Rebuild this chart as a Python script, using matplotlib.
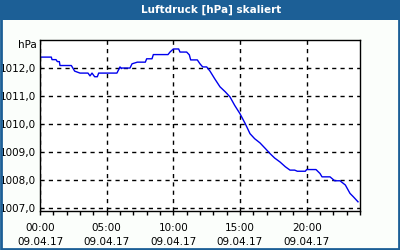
import matplotlib
matplotlib.use('Agg')
import matplotlib.pyplot as plt
from matplotlib.patches import Rectangle
from matplotlib.ticker import FixedLocator, MultipleLocator

# Luftdruck values (hours since 00:00, hPa)
hours = [0.0, 0.85, 0.9, 1.2, 1.3, 1.45, 1.5, 2.35, 2.6, 3.0, 3.6, 3.75,
         3.9, 4.1, 4.3, 4.4, 5.77, 6.0, 6.1, 6.15, 6.75, 6.9, 7.3, 7.9,
         8.0, 8.4, 8.5, 9.6, 9.75, 10.0, 10.4, 10.5, 11.0, 11.2, 11.3, 11.8,
         12.0, 12.2, 12.5, 12.75, 13.1, 13.5, 13.9, 14.25, 14.6, 15.0, 15.4,
         15.75, 16.1, 16.5, 16.9, 17.25, 17.6, 18.0, 18.4, 18.75, 19.1, 19.3,
         19.9, 20.0, 20.7, 21.0, 21.15, 21.75, 22.1, 22.5, 22.9, 23.25, 23.5,
         23.85]
pressure = [1012.39, 1012.39, 1012.30, 1012.30, 1012.23, 1012.23, 1012.09,
            1012.09, 1011.89, 1011.82, 1011.82, 1011.72, 1011.82, 1011.69,
            1011.69, 1011.82, 1011.82, 1012.04, 1011.98, 1012.0, 1012.0,
            1012.15, 1012.21, 1012.21, 1012.33, 1012.33, 1012.48, 1012.48,
            1012.57, 1012.68, 1012.68, 1012.57, 1012.57, 1012.47, 1012.29,
            1012.29, 1012.15, 1012.04, 1012.04, 1011.89, 1011.62, 1011.33,
            1011.15, 1010.97, 1010.67, 1010.37, 1010.01, 1009.66, 1009.48,
            1009.33, 1009.13, 1008.95, 1008.79, 1008.65, 1008.48, 1008.36,
            1008.36, 1008.32, 1008.32, 1008.38, 1008.38, 1008.24, 1008.12,
            1008.12, 1007.98, 1007.98, 1007.83, 1007.53, 1007.41, 1007.23]

xticks = [0, 5, 10, 15, 20]
xlabels = ['00:00\n09.04.17', '05:00\n09.04.17', '10:00\n09.04.17',
           '15:00\n09.04.17', '20:00\n09.04.17']
yticks = [1007, 1008, 1009, 1010, 1011, 1012]

blue = '#1c5f96'
fig = plt.figure(figsize=(4, 2.5), dpi=100, facecolor='#fbfefb')

# title bar and frame
fig.patches.append(Rectangle((0, 230/250), 1, 20/250, transform=fig.transFigure,
                             facecolor=blue, edgecolor='none', zorder=0))
fig.patches.append(Rectangle((0.0025, 0.003), 0.995, 0.995, transform=fig.transFigure,
                             facecolor='none', edgecolor=blue, lw=2, zorder=5))
fig.text(0.528, 1 - 10/250, 'Luftdruck [hPa] skaliert', color='white',
         fontsize=7.5, fontweight='bold', ha='center', va='center')

ax = fig.add_axes([40/400, (250-210.5)/250, 320/400, 170.5/250])
ax.set_facecolor('white')
ax.plot(hours, pressure, color='#0000ee', lw=1)

ax.set_xlim(0, 24)
ax.set_ylim(1006.92, 1013.0)
ax.xaxis.set_major_locator(FixedLocator(xticks))
ax.xaxis.set_minor_locator(MultipleLocator(1))
ax.set_xticklabels(xlabels, fontsize=7.5, linespacing=1.45)
ax.set_yticks(yticks)
ax.set_yticklabels(['%d,0' % v for v in yticks], fontsize=7.5)
ax.tick_params(axis='x', which='both', direction='out', length=3, width=1, pad=6)
ax.tick_params(axis='y', length=0, pad=3)

ax.grid(True, which='major', color='black', linestyle=(0, (3, 3)), lw=1)
for s in ax.spines.values():
    s.set_color('black')
    s.set_linewidth(1)

fig.text(37/400, 1 - 45/250, 'hPa', fontsize=7.5, ha='right', va='center')

fig.savefig('out.png', dpi=100, facecolor=fig.get_facecolor())
